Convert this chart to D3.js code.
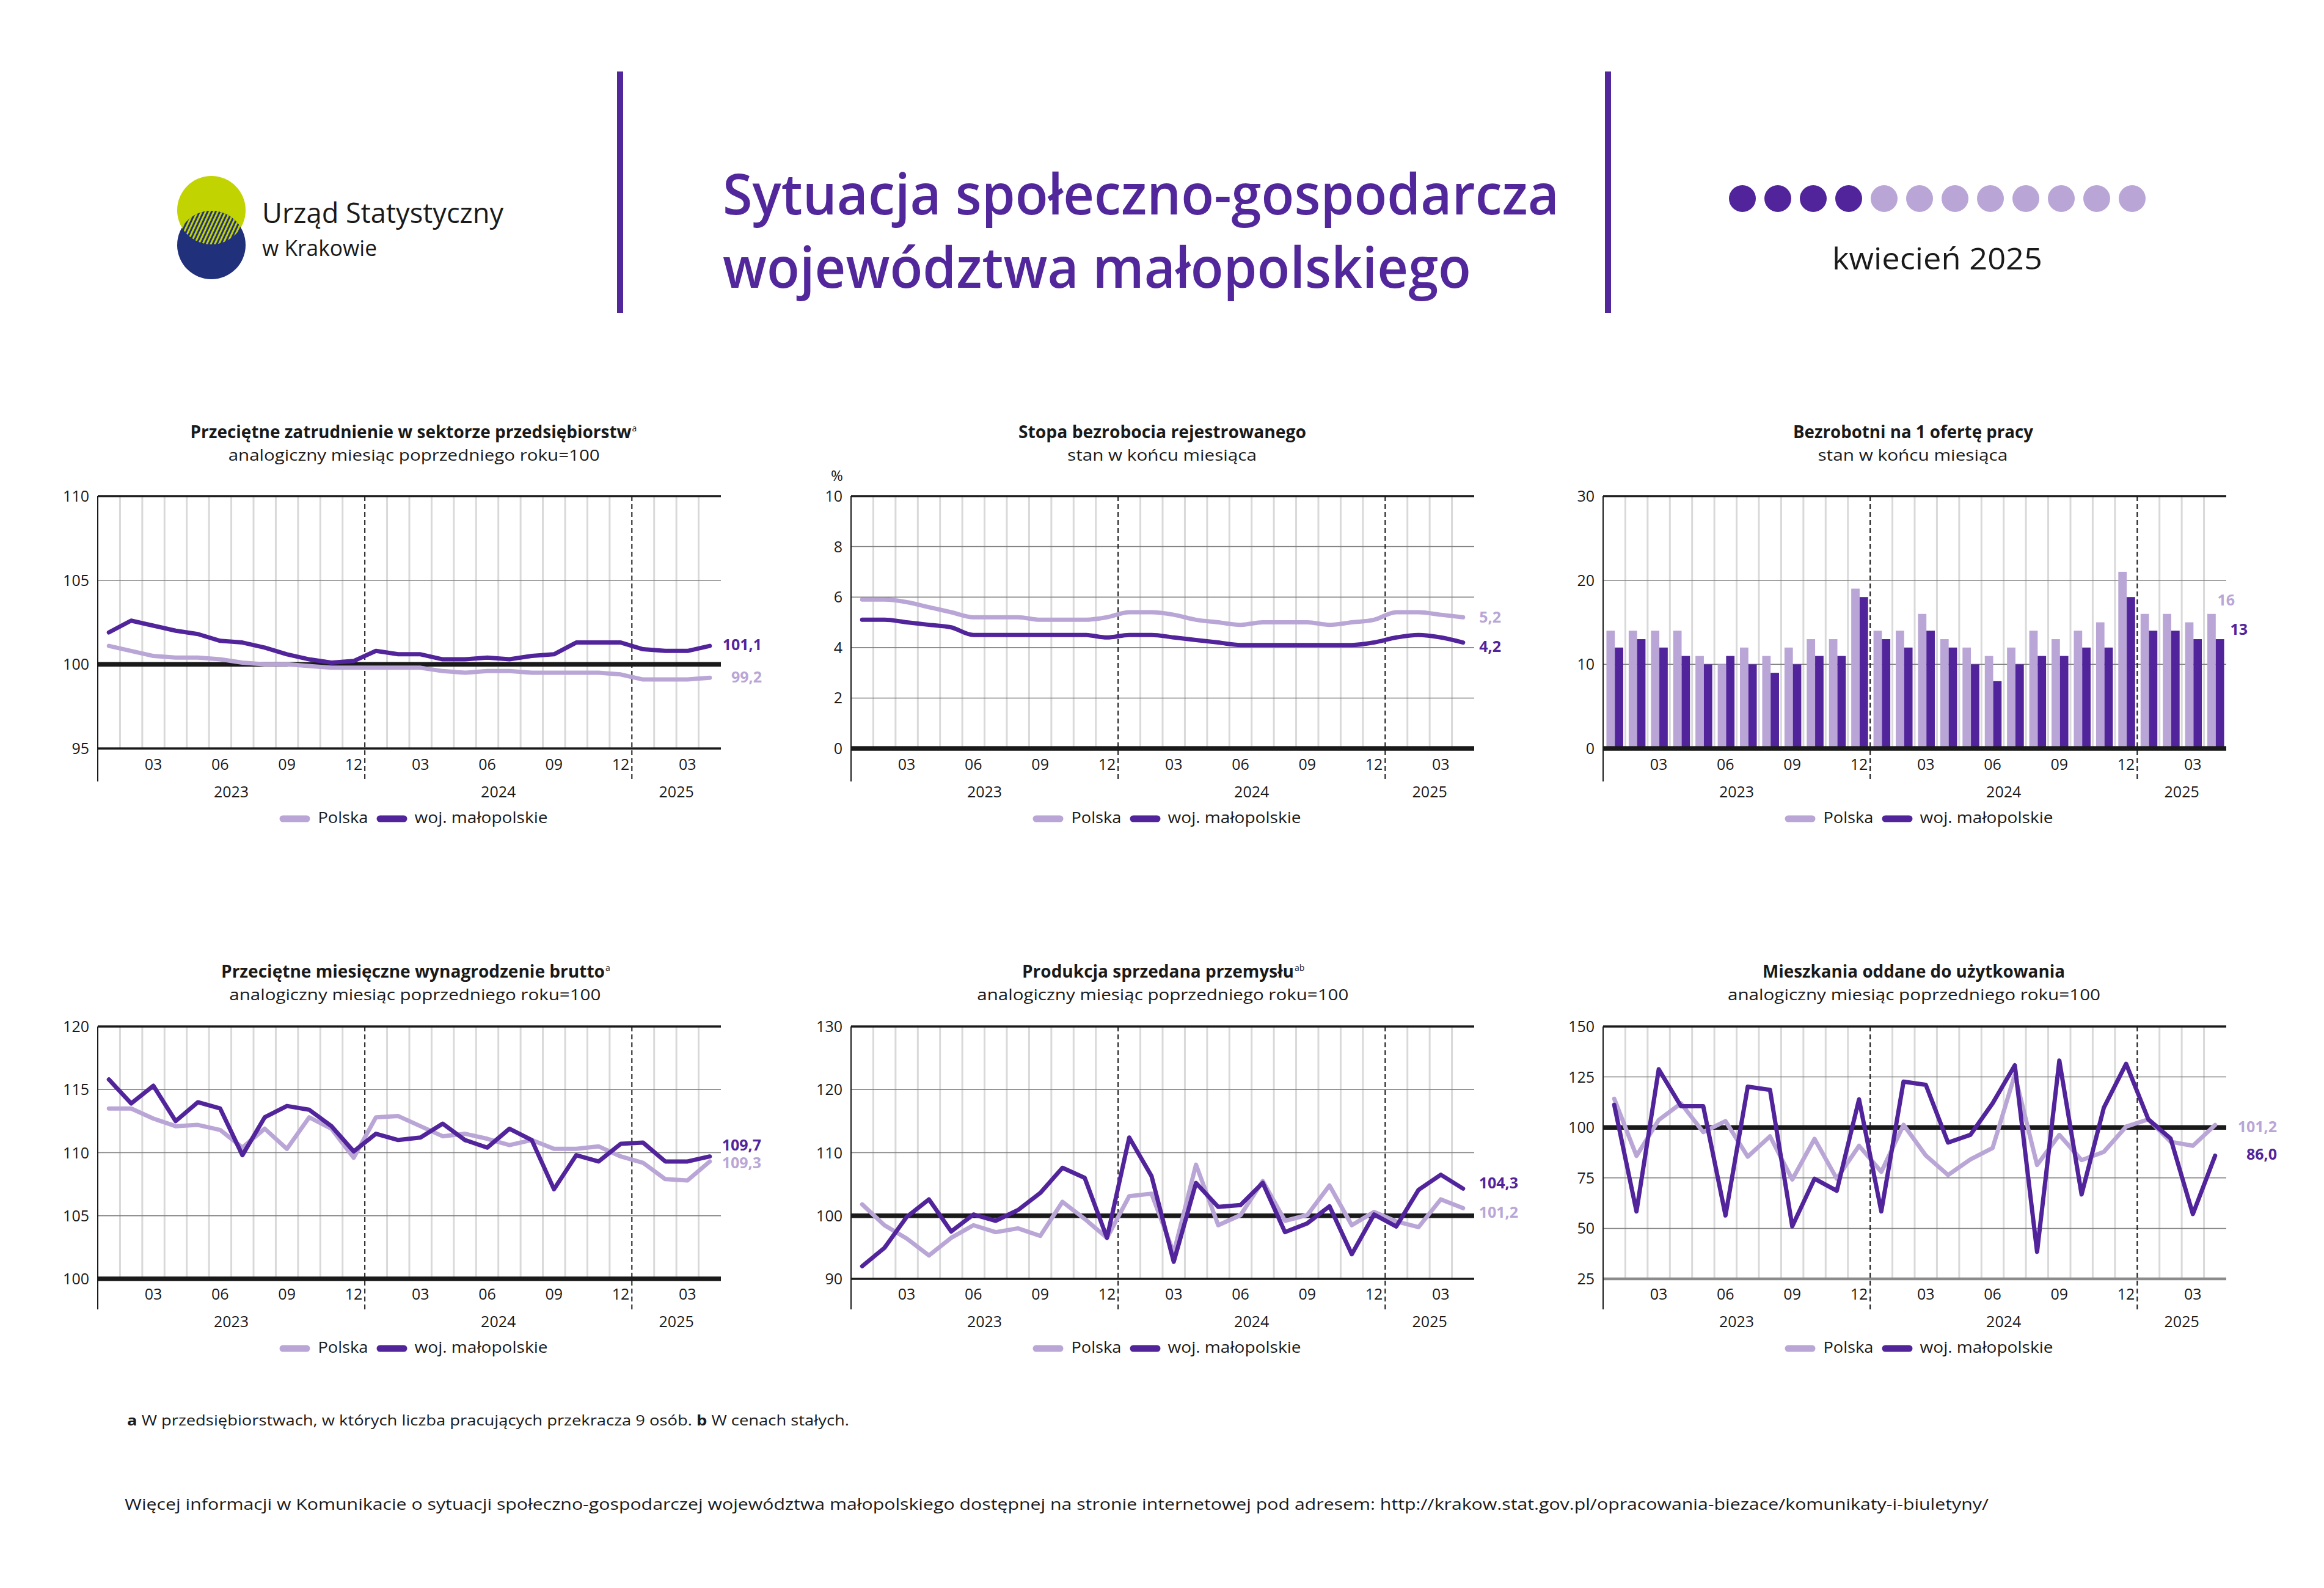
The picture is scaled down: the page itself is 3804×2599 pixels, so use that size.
<!DOCTYPE html>
<html><head><meta charset="utf-8">
<script src="https://cdn.jsdelivr.net/npm/d3@7"></script>
<style>
html,body{margin:0;padding:0;background:#fff;}
svg{display:block;font-family:"Open Sans","Noto Sans",sans-serif;}
</style></head><body>
<svg id="c" width="3804" height="2599"></svg>
<script>
// ---------- DATA ----------
const periods = ["2023-01","2023-02","2023-03","2023-04","2023-05","2023-06","2023-07","2023-08","2023-09","2023-10","2023-11","2023-12",
                 "2024-01","2024-02","2024-03","2024-04","2024-05","2024-06","2024-07","2024-08","2024-09","2024-10","2024-11","2024-12",
                 "2025-01","2025-02","2025-03","2025-04"];
const years = ["2023","2024","2025"];
const monthTicks = ["03","06","09","12"];
const seriesNames = ["Polska","woj. małopolskie"];

const empPL = [101.1,100.8,100.5,100.4,100.4,100.3,100.1,100.0,100.0,99.9,99.8,99.8,99.8,99.8,99.8,99.6,99.5,99.6,99.6,99.5,99.5,99.5,99.5,99.4,99.1,99.1,99.1,99.2];
const empMP = [101.9,102.6,102.3,102.0,101.8,101.4,101.3,101.0,100.6,100.3,100.1,100.2,100.8,100.6,100.6,100.3,100.3,100.4,100.3,100.5,100.6,101.3,101.3,101.3,100.9,100.8,100.8,101.1];
const empTicks = [95,100,105,110];

const unempPL = [5.9,5.9,5.8,5.6,5.4,5.2,5.2,5.2,5.1,5.1,5.1,5.2,5.4,5.4,5.3,5.1,5.0,4.9,5.0,5.0,5.0,4.9,5.0,5.1,5.4,5.4,5.3,5.2];
const unempMP = [5.1,5.1,5.0,4.9,4.8,4.5,4.5,4.5,4.5,4.5,4.5,4.4,4.5,4.5,4.4,4.3,4.2,4.1,4.1,4.1,4.1,4.1,4.1,4.2,4.4,4.5,4.4,4.2];
const unempTicks = [0,2,4,6,8,10];

const offersPL = [14,14,14,14,11,10,12,11,12,13,13,19,14,14,16,13,12,11,12,14,13,14,15,21,16,16,15,16];
const offersMP = [12,13,12,11,10,11,10,9,10,11,11,18,13,12,14,12,10,8,10,11,11,12,12,18,14,14,13,13];
const offersTicks = [0,10,20,30];

const wagePL = [113.5,113.5,112.7,112.1,112.2,111.8,110.4,111.9,110.3,112.8,111.9,109.6,112.8,112.9,112.1,111.3,111.5,111.1,110.6,111.0,110.3,110.3,110.5,109.7,109.2,107.9,107.8,109.3];
const wageMP = [115.8,113.9,115.3,112.5,114.0,113.5,109.8,112.8,113.7,113.4,112.1,110.1,111.5,111.0,111.2,112.3,111.0,110.4,111.9,111.0,107.1,109.8,109.3,110.7,110.8,109.3,109.3,109.7];
const wageTicks = [100,105,110,115,120];

const prodPL = [101.8,98.5,96.4,93.7,96.5,98.5,97.4,98.0,96.8,102.2,99.5,96.5,103.1,103.5,94.1,108.1,98.5,100.1,105.5,99.2,100.1,104.8,98.5,100.6,99.1,98.2,102.6,101.2];
const prodMP = [92.0,94.9,99.8,102.6,97.5,100.2,99.2,100.9,103.6,107.6,106.0,96.5,112.4,106.3,92.7,105.2,101.4,101.7,105.2,97.4,98.8,101.5,93.9,100.2,98.3,104.1,106.5,104.3];
const prodTicks = [90,100,110,120,130];

const housePL = [114.2,85.9,103.7,111.9,97.7,103.1,85.5,95.6,74.2,94.3,74.6,90.9,78.0,101.3,86.1,76.4,84.1,89.8,126.1,81.4,96.3,83.8,87.9,100.4,104.0,92.9,90.9,101.2];
const houseMP = [111.2,58.4,128.8,110.5,110.5,56.4,120.2,118.6,51.0,74.6,68.6,113.9,58.4,122.7,121.1,92.5,96.3,111.9,130.8,38.4,133.1,66.8,109.8,131.5,104.0,94.5,57.1,86.0];
const houseTicks = [25,50,75,100,125,150];

const footnoteA = ["a", " W przedsiębiorstwach, w których liczba pracujących przekracza 9 osób.  ", "b", " W cenach stałych."];
const footnoteMore = "Więcej informacji w Komunikacie o sytuacji społeczno-gospodarczej województwa małopolskiego dostępnej na stronie internetowej pod adresem: http://krakow.stat.gov.pl/opracowania-biezace/komunikaty-i-biuletyny/";
const currentMonth = 4;
const monthsInYear = 12;

// ---------- STYLE / LAYOUT ----------
const DARK = "#52249b", LIGHT = "#b9a6d6", INK = "#1a1a1a", TITLEC = "#52279b";
const svg = d3.select("#c");
svg.append("rect").attr("width",3804).attr("height",2599).attr("fill","#fff");

function fit(sel, w){ return sel.attr("textLength", w).attr("lengthAdjust","spacingAndGlyphs"); }

// ---------- HEADER ----------
const defs = svg.append("defs");
const pat = defs.append("pattern").attr("id","hatch").attr("patternUnits","userSpaceOnUse")
  .attr("width",6).attr("height",6).attr("patternTransform","rotate(25)");
pat.append("rect").attr("width",6).attr("height",6).attr("fill","#21307a");
pat.append("rect").attr("width",3).attr("height",6).attr("fill","#c1d300");
defs.append("clipPath").attr("id","yclip").append("circle").attr("cx",346).attr("cy",344).attr("r",56);
svg.append("circle").attr("cx",346).attr("cy",344).attr("r",56).attr("fill","#c1d300");
svg.append("circle").attr("cx",346).attr("cy",401).attr("r",56).attr("fill","#21307a");
svg.append("circle").attr("cx",346).attr("cy",401).attr("r",56).attr("fill","url(#hatch)").attr("clip-path","url(#yclip)");
fit(svg.append("text").attr("x",429).attr("y",365).attr("font-size",46).attr("fill",INK).text("Urząd Statystyczny"),395);
fit(svg.append("text").attr("x",429).attr("y",419).attr("font-size",37).attr("fill",INK).text("w Krakowie"),188);

svg.append("line").attr("x1",1015).attr("x2",1015).attr("y1",117).attr("y2",512).attr("stroke",TITLEC).attr("stroke-width",10);
svg.append("line").attr("x1",2632).attr("x2",2632).attr("y1",117).attr("y2",512).attr("stroke",TITLEC).attr("stroke-width",10);
fit(svg.append("text").attr("x",1183).attr("y",351).attr("font-size",93).attr("font-weight",600).attr("fill",TITLEC).text("Sytuacja społeczno-gospodarcza"),1369);
fit(svg.append("text").attr("x",1183).attr("y",471).attr("font-size",93).attr("font-weight",600).attr("fill",TITLEC).text("województwa małopolskiego"),1225);

const dotX = d3.scaleLinear().domain([1, monthsInYear]).range([2852, 3490]);
svg.append("g").selectAll("circle").data(d3.range(1, monthsInYear+1)).join("circle")
  .attr("cx", d => dotX(d)).attr("cy", 325).attr("r", 22)
  .attr("fill", d => d <= currentMonth ? DARK : LIGHT);
fit(svg.append("text").attr("x",3171).attr("y",441).attr("font-size",49).attr("text-anchor","middle").attr("fill",INK).text("kwiecień 2025"),344);

// ---------- CHARTS ----------
const plotW = 1020;
const cols = [160, 1393, 2624];
const rows = [
  {top:812, bottom:1225, ext:54, tickY:35, yearY:80, legY:122, titleY:-95, subY:-58},
  {top:1680, bottom:2093, ext:50, tickY:34, yearY:78.5, legY:121, titleY:-80, subY:-43}
];
const SUB100 = "analogiczny miesiąc poprzedniego roku=100";
const SUBSTAN = "stan w końcu miesiąca";

const charts = [
  {col:0,row:0,type:"line",title:"Przeciętne zatrudnienie w sektorze przedsiębiorstw",sup:"a",tX:151.5,tW:722,sub:SUB100,sX:213.7,sW:608,
   pl:empPL,mp:empMP,ticks:empTicks,ref:100,minStyle:"black",lab:{pl:[67,-1],mp:[67,-2]},dec:1,curve:d3.curveLinear},
  {col:1,row:0,type:"line",title:"Stopa bezrobocia rejestrowanego",sup:"",tX:274,tW:471,sub:SUBSTAN,sX:354,sW:310,unit:"%",
   pl:unempPL,mp:unempMP,ticks:unempTicks,ref:0,minStyle:"ref",lab:{pl:[44,0],mp:[44,6]},dec:1,curve:d3.curveMonotoneX},
  {col:2,row:0,type:"bar",title:"Bezrobotni na 1 ofertę pracy",sup:"",tX:311,tW:393,sub:SUBSTAN,sX:351.4,sW:311,
   pl:offersPL,mp:offersMP,ticks:offersTicks,ref:0,minStyle:"ref",lab:{pl:[14,-23],mp:[35,-16]},dec:0},
  {col:0,row:1,type:"line",title:"Przeciętne miesięczne wynagrodzenie brutto",sup:"a",tX:202,tW:628,sub:SUB100,sX:215.3,sW:608,
   pl:wagePL,mp:wageMP,ticks:wageTicks,ref:100,minStyle:"ref",lab:{pl:[66,2],mp:[66,-19]},dec:1,curve:d3.curveLinear},
  {col:1,row:1,type:"line",title:"Produkcja sprzedana przemysłu",sup:"ab",tX:280,tW:445,sub:SUB100,sX:206.3,sW:608,
   pl:prodPL,mp:prodMP,ticks:prodTicks,ref:100,minStyle:"black",lab:{pl:[72,7],mp:[72,-9]},dec:1,curve:d3.curveLinear},
  {col:2,row:1,type:"line",title:"Mieszkania oddane do użytkowania",sup:"",tX:261,tW:495,sub:SUB100,sX:204,sW:610,
   pl:housePL,mp:houseMP,ticks:houseTicks,ref:100,minStyle:"gray",lab:{pl:[83,3],mp:[83,-2]},dec:1,curve:d3.curveLinear}
];
const legendTextW = [82, 218];

const fmt = (v, dec) => d3.format("." + dec + "f")(v).replace(".", ",");

charts.forEach(c => {
  const R = rows[c.row];
  const x0 = cols[c.col];
  const g = svg.append("g");
  const x = d3.scaleBand().domain(periods).range([x0, x0 + plotW]).padding(0);
  const bw = x.bandwidth();
  const cx = p => x(p) + bw / 2;
  const tmin = d3.min(c.ticks), tmax = d3.max(c.ticks);
  const y = d3.scaleLinear().domain([tmin, tmax]).range([R.bottom, R.top]);

  // titles
  const tt = g.append("text").attr("x", x0 + c.tX).attr("y", R.top + R.titleY)
    .attr("font-size", 28).attr("font-weight", 700).attr("fill", INK).text(c.title);
  fit(tt, c.tW);
  if (c.sup) {
    g.append("text").attr("x", x0 + c.tX + c.tW + 1).attr("y", R.top + R.titleY - 11)
      .attr("font-size", 14).attr("fill", INK).text(c.sup);
  }
  fit(g.append("text").attr("x", x0 + c.sX).attr("y", R.top + R.subY)
    .attr("font-size", 25).attr("fill", INK).text(c.sub), c.sW);
  if (c.unit) {
    g.append("text").attr("x", x0 - 23).attr("y", R.top - 25).attr("text-anchor","middle")
      .attr("font-size", 24).attr("fill", INK).text(c.unit);
  }

  // vertical gridlines (month boundaries)
  const inner = periods.slice(1);
  g.append("g").selectAll("line").data(inner.filter(p => !p.endsWith("-01"))).join("line")
    .attr("x1", d => x(d)).attr("x2", d => x(d)).attr("y1", R.top).attr("y2", R.bottom)
    .attr("stroke", "#d9d9d9").attr("stroke-width", 3);

  // horizontal lines
  const hg = g.append("g");
  c.ticks.forEach(t => {
    let stroke = "#7f7f7f", sw = 1.5;
    if (t === tmax) { stroke = INK; sw = 3.5; }
    else if (t === c.ref) { return; }
    else if (t === tmin) {
      if (c.minStyle === "black") { stroke = INK; sw = 3.5; }
      else if (c.minStyle === "gray") { stroke = "#8c8c8c"; sw = 4.5; }
    }
    hg.append("line").attr("x1", x0).attr("x2", x0 + plotW).attr("y1", y(t)).attr("y2", y(t))
      .attr("stroke", stroke).attr("stroke-width", sw);
  });

  // year separators (dashed)
  g.append("g").selectAll("line").data(inner.filter(p => p.endsWith("-01"))).join("line")
    .attr("x1", d => x(d)).attr("x2", d => x(d)).attr("y1", R.top).attr("y2", R.bottom + R.ext)
    .attr("stroke", INK).attr("stroke-width", 2).attr("stroke-dasharray", "8,5");

  // left axis
  g.append("line").attr("x1", x0).attr("x2", x0).attr("y1", R.top).attr("y2", R.bottom + R.ext)
    .attr("stroke", INK).attr("stroke-width", 2);

  // y tick labels
  g.append("g").selectAll("text").data(c.ticks).join("text")
    .attr("x", x0 - 14).attr("y", d => y(d)).attr("dy", "0.36em").attr("text-anchor", "end")
    .attr("font-size", 25).attr("fill", INK).text(d => d);

  // x tick labels
  g.append("g").selectAll("text").data(periods.filter(p => monthTicks.includes(p.slice(5)))).join("text")
    .attr("x", d => cx(d)).attr("y", R.bottom + R.tickY).attr("text-anchor", "middle")
    .attr("font-size", 25).attr("fill", INK).text(d => d.slice(5));
  g.append("g").selectAll("text").data(years).join("text")
    .attr("x", yr => d3.mean(periods.filter(p => p.startsWith(yr)), cx)).attr("y", R.bottom + R.yearY)
    .attr("text-anchor", "middle").attr("font-size", 25).attr("fill", INK).text(d => d);

  const refLine = () => g.append("line").attr("x1", x0).attr("x2", x0 + plotW)
    .attr("y1", y(c.ref)).attr("y2", y(c.ref)).attr("stroke", INK).attr("stroke-width", 7.5);

  if (c.type === "bar") {
    const x1 = d3.scaleBand().domain(["pl","mp"]).range([bw * 0.15, bw * 0.905]);
    const rowsData = periods.map((p, i) => ({p, pl: c.pl[i], mp: c.mp[i]}));
    ["pl","mp"].forEach(k => {
      g.append("g").selectAll("rect").data(rowsData).join("rect")
        .attr("x", d => x(d.p) + x1(k)).attr("width", x1.bandwidth())
        .attr("y", d => y(d[k])).attr("height", d => y(0) - y(d[k]))
        .attr("fill", k === "pl" ? LIGHT : DARK);
    });
    refLine();
  } else {
    refLine();
    const line = d3.line().x((d, i) => cx(periods[i])).y(d => y(d)).curve(c.curve);
    g.append("path").attr("d", line(c.pl)).attr("fill","none").attr("stroke", LIGHT)
      .attr("stroke-width", 7).attr("stroke-linejoin","round").attr("stroke-linecap","round");
    g.append("path").attr("d", line(c.mp)).attr("fill","none").attr("stroke", DARK)
      .attr("stroke-width", 7).attr("stroke-linejoin","round").attr("stroke-linecap","round");
  }

  // end labels
  [["pl", LIGHT], ["mp", DARK]].forEach(([k, col]) => {
    const v = c[k][c[k].length - 1];
    g.append("text").attr("x", x0 + plotW + c.lab[k][0]).attr("y", y(v) + c.lab[k][1]).attr("dy", "0.36em")
      .attr("text-anchor", "end").attr("font-size", 25).attr("font-weight", 700).attr("fill", col)
      .text(fmt(v, c.dec));
  });

  // legend
  const lg = g.append("g");
  const ly = R.bottom + R.legY;
  let cur = 0;
  const swW = 39, cap = 5.5;
  const gapAfterSw = [13, 12], gapAfterText = 14;
  seriesNames.forEach((name, i) => {
    lg.append("line").attr("x1", cur + cap).attr("x2", cur + cap + swW).attr("y1", ly - 7).attr("y2", ly - 7)
      .attr("stroke", i === 0 ? LIGHT : DARK).attr("stroke-width", 11).attr("stroke-linecap", "round");
    cur += swW + 2 * cap + gapAfterSw[i];
    fit(lg.append("text").attr("x", cur).attr("y", ly).attr("font-size", 25).attr("fill", INK).text(name), legendTextW[i]);
    cur += legendTextW[i] + gapAfterText;
  });
  const totalW = cur - gapAfterText;
  lg.attr("transform", `translate(${x0 + plotW / 2 + 7 - totalW / 2},0)`);
});

// ---------- FOOTNOTES ----------
const fa = svg.append("text").attr("x", 208).attr("y", 2333).attr("font-size", 23).attr("fill", INK);
footnoteA.forEach((s, i) => fa.append("tspan").attr("font-weight", (i % 2 === 0) ? 700 : 400).text(s));
fit(fa, 1182);
fit(svg.append("text").attr("x", 204).attr("y", 2471).attr("font-size", 26).attr("fill", INK).text(footnoteMore), 3051);
</script>
</body></html>
